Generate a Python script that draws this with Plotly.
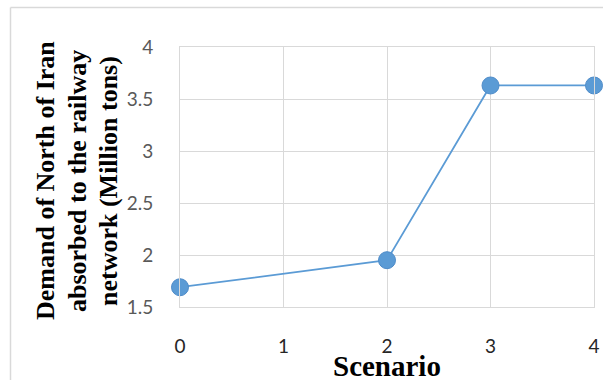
import plotly.graph_objects as go

scenarios = [0, 2, 3, 4]
demand = [1.69, 1.95, 3.63, 3.63]
x_ticks = [0, 1, 2, 3, 4]
y_ticks = [1.5, 2, 2.5, 3, 3.5, 4]
y_tick_labels = ["1.5", "2", "2.5", "3", "3.5", "4"]
y_title_lines = ["Demand of North of Iran", "absorbed to the railway", "network (Million tons)"]
x_title = "Scenario"

W, H = 603, 380
L, R, T, B = 180, 9, 47, 73
pw, ph = W - L - R, H - T - B

def px_x(p):
    return (p - L) / pw

def px_y(p):
    return (H - B - p) / ph

fig = go.Figure()
fig.add_trace(go.Scatter(
    x=scenarios, y=demand, mode="lines+markers",
    line=dict(color="#5B9BD5", width=1.75),
    marker=dict(size=17, color="#5B9BD5", line=dict(color="#4F8CC9", width=1)),
    cliponaxis=False, showlegend=False,
))

grid = "#D9D9D9"
fig.update_xaxes(
    range=[0, 4], tickvals=x_ticks, ticktext=[str(v) for v in x_ticks],
    showgrid=True, gridcolor=grid, gridwidth=1, zeroline=False,
    showline=True, linecolor=grid, linewidth=1, mirror=True,
    tickfont=dict(family="Lato", size=19, color="#262626"),
    ticks="", ticklabelstandoff=22, automargin=False,
)
fig.update_yaxes(
    range=[1.5, 4], tickvals=y_ticks, ticktext=y_tick_labels,
    showgrid=True, gridcolor=grid, gridwidth=1, zeroline=False,
    showline=True, linecolor=grid, linewidth=1, mirror=True,
    tickfont=dict(family="Lato", size=19, color="#595959"),
    ticks="", ticklabelstandoff=22, automargin=False,
)

annotations = []
for xp, line in zip([45, 77, 108], y_title_lines):
    annotations.append(dict(
        text=line, x=px_x(xp), y=px_y(181), xref="paper", yref="paper",
        xanchor="center", yanchor="middle", textangle=-90, showarrow=False,
        font=dict(family="Liberation Serif", size=26, color="black", weight="bold"),
    ))
annotations.append(dict(
    text=x_title, x=px_x(387), y=px_y(366), xref="paper", yref="paper",
    xanchor="center", yanchor="middle", showarrow=False,
    font=dict(family="Liberation Serif", size=29, color="black", weight="bold"),
))

shapes = [
    dict(type="line", xref="paper", yref="paper",
         x0=px_x(10.5), x1=px_x(10.5), y0=px_y(385), y1=px_y(7.5),
         line=dict(color="#D9D9D9", width=1.5)),
    dict(type="line", xref="paper", yref="paper",
         x0=px_x(10.5), x1=px_x(610), y0=px_y(7.5), y1=px_y(7.5),
         line=dict(color="#D9D9D9", width=1.5)),
]

fig.update_layout(
    width=W, height=H, margin=dict(l=L, r=R, t=T, b=B, autoexpand=False),
    paper_bgcolor="white", plot_bgcolor="white",
    annotations=annotations, shapes=shapes,
)
fig.write_html(
    "out.html",
    config={"displayModeBar": False},
    post_script="document.body.style.margin='0';document.body.style.overflow='hidden';",
)
